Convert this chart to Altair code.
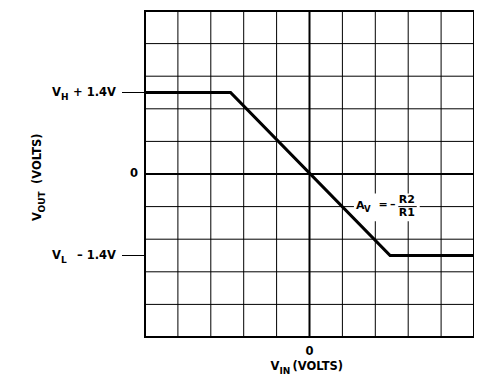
import altair as alt
import pandas as pd

# Transfer curve (VIN, VOUT) in grid units
vin = [-5, -2.4, 2.45, 5]
vout = [2.5, 2.5, -2.5, -2.5]

grid_vals = list(range(-5, 6))

# Left level labels
level_y = [2.5, -2.5]
level_main = ["V", "V"]
level_sub = ["H", "L"]
level_tail = ["+ 1.4V", "\u2013 1.4V"]
tick_levels = [2.5, -2.5]
zero_label = ["0"]

FONT = "DejaVu Sans"
FW = "bold"
FS = 11.5
SUB = 9

W, H = 329, 326

xs = alt.Scale(domain=[-5, 5], nice=False, zero=False)
ys = alt.Scale(domain=[-5, 5], nice=False, zero=False)

grid_df = pd.DataFrame({"g": grid_vals})
gx = alt.Chart(grid_df).mark_rule(color="black", strokeWidth=1).encode(
    x=alt.X("g:Q", scale=xs, axis=None))
gy = alt.Chart(grid_df).mark_rule(color="black", strokeWidth=1).encode(
    y=alt.Y("g:Q", scale=ys, axis=None))

zero_df = pd.DataFrame({"z": [0]})
zx = alt.Chart(zero_df).mark_rule(color="black", strokeWidth=2).encode(
    x=alt.X("z:Q", scale=xs, axis=None))
zy = alt.Chart(zero_df).mark_rule(color="black", strokeWidth=2).encode(
    y=alt.Y("z:Q", scale=ys, axis=None))

curve_df = pd.DataFrame({"vin": vin, "vout": vout})
curve = alt.Chart(curve_df).mark_line(color="black", strokeWidth=3.2,
                                      strokeJoin="miter").encode(
    x=alt.X("vin:Q", scale=xs, axis=None),
    y=alt.Y("vout:Q", scale=ys, axis=None),
)

# annotation A_V = -R2/R1
ann_box = pd.DataFrame({"x1": [1.35], "x2": [3.35], "y1": [-0.6], "y2": [-1.45]})
box = alt.Chart(ann_box).mark_rect(color="white").encode(
    x=alt.X("x1:Q", scale=xs, axis=None), x2="x2:Q",
    y=alt.Y("y1:Q", scale=ys, axis=None), y2="y2:Q")
frac_df = pd.DataFrame({"x1": [2.7], "x2": [3.26], "y": [-1]})
frac = alt.Chart(frac_df).mark_rule(color="black", strokeWidth=1).encode(
    x=alt.X("x1:Q", scale=xs, axis=None), x2="x2:Q",
    y=alt.Y("y:Q", scale=ys, axis=None))

ann_x = [1.41, 1.66, 2.1, 2.45, 2.71, 2.71]
ann_t = ["A", "V", "=", "\u2013", "R2", "R1"]
ann_dy = [2, 5.5, 1.5, 1.5, -3.5, 9]
ann_fs = [11, 8.5, 11, 11, 11, 11]

layers_txt = []
for xv, t, dy, fs in zip(ann_x, ann_t, ann_dy, ann_fs):
    d = pd.DataFrame({"x": [xv], "y": [-1], "t": [t]})
    layers_txt.append(alt.Chart(d).mark_text(
        font=FONT, fontWeight=FW, fontSize=fs, align="left", baseline="alphabetic",
        color="black", dy=dy).encode(
        x=alt.X("x:Q", scale=xs, axis=None), y=alt.Y("y:Q", scale=ys, axis=None),
        text="t:N"))

# left labels
lev_df = pd.DataFrame({"y": level_y, "m": level_main, "s": level_sub, "t": level_tail})
lev_main = alt.Chart(lev_df).mark_text(font=FONT, fontWeight=FW, fontSize=FS, align="left",
                                       baseline="middle", color="black", dx=-93).encode(
    x=alt.value(0), y=alt.Y("y:Q", scale=ys, axis=None), text="m:N")
lev_sub = alt.Chart(lev_df).mark_text(font=FONT, fontWeight=FW, fontSize=SUB, align="left",
                                      baseline="middle", color="black", dx=-84, dy=4).encode(
    x=alt.value(0), y=alt.Y("y:Q", scale=ys, axis=None), text="s:N")
lev_tail = alt.Chart(lev_df).mark_text(font=FONT, fontWeight=FW, fontSize=FS, align="right",
                                       baseline="middle", color="black", dx=-29).encode(
    x=alt.value(0), y=alt.Y("y:Q", scale=ys, axis=None), text="t:N")
z_df = pd.DataFrame({"y": [0], "t": zero_label})
lev_zero = alt.Chart(z_df).mark_text(font=FONT, fontWeight=FW, fontSize=FS, align="right",
                                     baseline="middle", color="black", dx=-7).encode(
    x=alt.value(0), y=alt.Y("y:Q", scale=ys, axis=None), text="t:N")

tick_df = pd.DataFrame({"y": tick_levels})
lticks = alt.Chart(tick_df).mark_rule(color="black", strokeWidth=1).encode(
    x=alt.value(-23), x2=alt.value(0), y=alt.Y("y:Q", scale=ys, axis=None))

# x axis zero label
x0_df = pd.DataFrame({"x": [0], "t": zero_label})
x0 = alt.Chart(x0_df).mark_text(font=FONT, fontWeight=FW, fontSize=FS, align="center",
                                baseline="middle", color="black").encode(
    x=alt.X("x:Q", scale=xs, axis=None), y=alt.value(H + 15), text="t:N")

# x title pieces
xt_t = ["V", "IN", "(VOLTS)"]
xt_dx = [-39, -30, -17]
xt_dy = [0, 3.5, 0]
xt_fs = [FS, SUB, FS]
for t, dx, dy, fs in zip(xt_t, xt_dx, xt_dy, xt_fs):
    d = pd.DataFrame({"x": [0], "t": [t]})
    layers_txt.append(alt.Chart(d).mark_text(
        font=FONT, fontWeight=FW, fontSize=fs, align="left", baseline="alphabetic",
        color="black", dx=dx, dy=dy).encode(
        x=alt.X("x:Q", scale=xs, axis=None), y=alt.value(H + 33), text="t:N"))

# y title pieces (rotated)
yt_t = ["V", "OUT", "(VOLTS)"]
yt_dx = [0, 8.5, 37]
yt_dy = [0, 3.5, 0]
yt_fs = [FS, SUB, FS]
for t, dx, dy, fs in zip(yt_t, yt_dx, yt_dy, yt_fs):
    d = pd.DataFrame({"t": [t]})
    layers_txt.append(alt.Chart(d).mark_text(
        font=FONT, fontWeight=FW, fontSize=fs, align="left", baseline="alphabetic",
        color="black", angle=270, dx=dx, dy=dy).encode(
        x=alt.value(-104), y=alt.value(210), text="t:N"))

chart = alt.layer(gx, gy, zx, zy, box, frac, curve, lev_main, lev_sub, lev_tail,
                  lev_zero, lticks, x0, *layers_txt).properties(
    width=W, height=H,
    autosize=alt.AutoSizeParams(type="none"),
    padding={"left": 137, "top": 3, "right": 0, "bottom": 47},
    background="white",
).configure_view(stroke="black", strokeWidth=2)

chart.save("out.html", embed_options={"renderer": "svg", "actions": False})
